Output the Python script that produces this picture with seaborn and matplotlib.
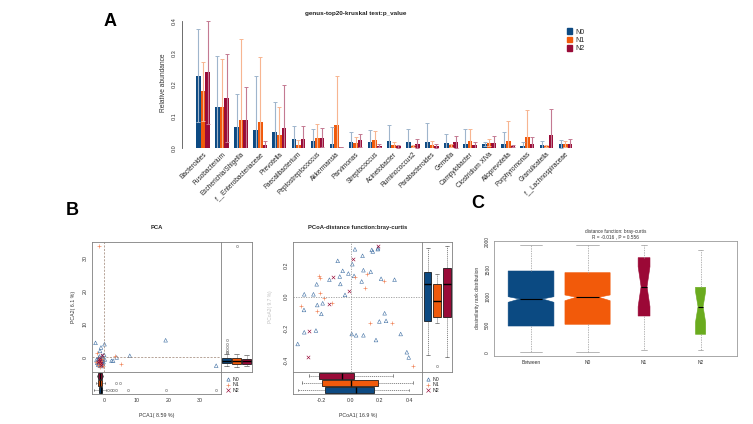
import matplotlib
matplotlib.use("Agg")
import matplotlib.pyplot as plt
from matplotlib.lines import Line2D
from matplotlib.patches import Patch
import pandas as pd
import seaborn as sns

sns.set_theme(style="white")
plt.rcParams['font.family'] = ['Liberation Sans', 'DejaVu Sans']

# ---------------- data ----------------
groups = ["N0", "N1", "N2"]
bar_colors = ["#0d4a82", "#f05a0c", "#990b38"]
err_colors = ["#9fb5cc", "#f7b591", "#c47a92"]
point_colors = ["#3f6fa3", "#f0845a", "#990b38"]

genus = ["Bacteroides", "Fusobacterium", "Escherichia/Shigella", "f__Enterobacteriaceae",
         "Prevotella", "Faecalibacterium", "Peptostreptococcus", "Akkermansia",
         "Parvimonas", "Streptococcus", "Acinetobacter", "Ruminococcus2",
         "Parabacteroides", "Gemella", "Campylobacter", "Clostridium XlVa",
         "Alloprevotella", "Porphyromonas", "Granulicatella", "f__Lachnospiraceae"]
n0_mean = [0.228, 0.128, 0.066, 0.058, 0.049, 0.028, 0.022, 0.012, 0.019, 0.020,
           0.023, 0.018, 0.018, 0.016, 0.013, 0.012, 0.013, 0.007, 0.008, 0.012]
n1_mean = [0.178, 0.130, 0.087, 0.083, 0.040, 0.010, 0.030, 0.071, 0.015, 0.024,
           0.008, 0.005, 0.010, 0.008, 0.021, 0.017, 0.021, 0.034, 0.005, 0.012]
n2_mean = [0.238, 0.157, 0.089, 0.008, 0.063, 0.029, 0.032, 0.003, 0.024, 0.007,
           0.005, 0.014, 0.007, 0.019, 0.008, 0.017, 0.005, 0.012, 0.042, 0.012]
n0_sd = [0.147, 0.161, 0.105, 0.170, 0.096, 0.041, 0.038, 0.054, 0.031, 0.037,
         0.050, 0.042, 0.060, 0.029, 0.047, 0.007, 0.037, 0.013, 0.013, 0.013]
n1_sd = [0.094, 0.150, 0.256, 0.204, 0.088, 0.015, 0.046, 0.157, 0.020, 0.029,
         0.011, 0.003, 0.013, 0.005, 0.039, 0.011, 0.064, 0.087, 0.003, 0.010]
n2_sd = [0.162, 0.139, 0.102, 0.014, 0.134, 0.040, 0.030, 0.001, 0.021, 0.005,
         0.005, 0.013, 0.006, 0.020, 0.010, 0.022, 0.003, 0.024, 0.082, 0.017]

# PCA scores
pca_n0_x = [-2.7, -1.0, 0.1, -1.3, 0.0, 2.3, 2.8, 3.9, 8.0, 19.2, 35.0,
            -1.8, -1.5, -1.2, -0.9, -0.6, -1.4, -2.0, -0.3, -1.0, -1.7, -0.8, -1.3, -0.5,
            -2.2, -1.1, 0.2, -1.6, -0.7, -1.9, -1.2, -0.4, -1.5, -0.9, -2.4, -0.2, -1.0,
            -1.8, -0.6, -1.3]
pca_n0_y = [4.4, 3.0, 4.0, 2.0, 0.8, -1.0, -1.0, 0.0, 0.5, 5.2, -2.5,
            -0.5, -1.2, -2.0, -0.8, -1.5, -2.4, -1.0, -0.3, -1.7, -0.2, -2.3, -0.9, -1.0,
            -1.6, -0.4, -0.6, -1.9, 0.5, -2.2, -1.3, -2.0, 0.3, -2.6, -0.7, -1.4, -1.1,
            -1.4, -0.1, -2.5]
pca_n1_x = [-1.6, -2.2, 3.4, 5.2, -1.0, -1.5, -0.8, -2.0, -1.2, -0.5, -1.7, -0.9, -1.4, -2.5]
pca_n1_y = [33.7, 1.2, 0.3, -2.1, -2.0, -1.0, -0.4, -2.3, -1.6, -2.6, -0.6, -1.2, -2.8, -1.5]
pca_n2_x = [-1.3, -0.9, -1.6, -1.1, -0.7, -1.9, -1.4]
pca_n2_y = [-1.0, -1.8, -0.5, -2.2, 0.6, -1.4, -0.2]

# PCoA scores (bray-curtis)
pcoa_n0_x = [0.029, 0.144, 0.151, 0.187, 0.185, 0.081, -0.089, 0.011, -0.055, 0.087,
             0.137, -0.016, -0.075, 0.023, -0.146, -0.233, 0.208, 0.300, 0.075, -0.071,
             -0.318, -0.255, -0.039, -0.192, -0.229, -0.320, -0.201, 0.232, 0.196, 0.242,
             -0.318, -0.238, 0.007, 0.037, 0.087, 0.173, 0.342, -0.363, 0.384, 0.397]
pcoa_n0_y = [0.299, 0.295, 0.285, 0.306, 0.300, 0.258, 0.226, 0.205, 0.163, 0.167,
             0.157, 0.146, 0.127, 0.131, 0.107, 0.078, 0.113, 0.107, 0.096, 0.080,
             0.015, 0.015, 0.011, -0.042, -0.053, -0.084, -0.109, -0.105, -0.157, -0.153,
             -0.225, -0.214, -0.236, -0.244, -0.244, -0.274, -0.236, -0.299, -0.351, -0.384]
pcoa_n1_x = [-0.218, -0.212, -0.207, -0.181, -0.126, -0.234, -0.341, 0.032, 0.114, 0.100,
             0.228, 0.132, 0.283, 0.425]
pcoa_n1_y = [0.130, 0.116, 0.020, -0.011, -0.038, -0.089, -0.059, 0.123, 0.141, 0.057,
             0.101, -0.168, -0.164, -0.436]
pcoa_n2_x = [0.185, 0.013, -0.119, -0.014, -0.146, -0.283, -0.290]
pcoa_n2_y = [0.320, 0.236, 0.124, 0.036, -0.045, -0.216, -0.379]

# marginal box statistics (N0, N1, N2)
pca_pc1_med = [-1.0, -1.3, -1.3]
pca_pc1_q1 = [-1.6, -2.0, -1.9]
pca_pc1_q3 = [-0.6, -0.6, -0.8]
pca_pc1_lo = [-3.2, -2.5, -2.2]
pca_pc1_hi = [0.5, 0.3, -0.3]
pca_pc1_out = [[1.3, 2.1, 2.8, 3.6, 7.5, 19.2, 35.0], [3.6, 5.1], []]
pca_pc2_med = [-1.0, -1.2, -1.2]
pca_pc2_q1 = [-1.6, -2.0, -1.9]
pca_pc2_q3 = [-0.3, -0.3, -0.4]
pca_pc2_lo = [-2.7, -2.8, -2.5]
pca_pc2_hi = [1.0, 1.0, 0.6]
pca_pc2_out = [[1.2, 1.7, 2.4, 3.2, 4.0, 5.2], [33.7], []]

pcoa_pc1_med = [0.034, 0.0, -0.062]
pcoa_pc1_q1 = [-0.176, -0.199, -0.215]
pcoa_pc1_q3 = [0.162, 0.185, 0.023]
pcoa_pc1_lo = [-0.363, -0.336, -0.283]
pcoa_pc1_hi = [0.397, 0.428, 0.287]
pcoa_pc2_med = [0.078, -0.027, 0.078]
pcoa_pc2_q1 = [-0.153, -0.128, -0.131]
pcoa_pc2_q3 = [0.157, 0.078, 0.179]
pcoa_pc2_lo = [-0.370, -0.164, -0.379]
pcoa_pc2_hi = [0.306, 0.141, 0.320]
pcoa_pc2_out = [[], [-0.436], []]

# ANOSIM rank distances
anosim_groups = ["Between", "N0", "N1", "N2"]
anosim_colors = ["#0b4a82", "#f25a0a", "#9b0836", "#6aab1e"]
anosim_med = [964, 995, 1187, 825]
anosim_q1 = [475, 506, 656, 325]
anosim_q3 = [1470, 1440, 1711, 1175]
anosim_lo = [0, 0, 42, 42]
anosim_hi = [1940, 1940, 1940, 1850]
anosim_cilo = [904, 933, 825, 540]
anosim_cihi = [1005, 1036, 1548, 1100]
anosim_width = [0.81, 0.80, 0.21, 0.18]

# ---------------- figure ----------------
W, H = 753, 424
fig = plt.figure(figsize=(W / 100, H / 100), dpi=100)


def px_axes(l, t, r, b):
    return fig.add_axes([l / W, 1 - b / H, (r - l) / W, (b - t) / H])


def frame(ax, color="#808080"):
    for s in ax.spines.values():
        s.set_visible(True)
        s.set_color(color)
        s.set_linewidth(0.6)
    ax.tick_params(length=1.8, width=0.4, pad=1.2, labelsize=3.8, colors="#333333")


def make_stats(med, q1, q3, lo, hi, out=None, cilo=None, cihi=None):
    stats = []
    for i in range(len(med)):
        d = dict(med=med[i], q1=q1[i], q3=q3[i], whislo=lo[i], whishi=hi[i],
                 fliers=out[i] if out else [])
        if cilo:
            d["cilo"], d["cihi"] = cilo[i], cihi[i]
        stats.append(d)
    return stats


def margin_box(ax, stats, orient, wid):
    bp = ax.bxp(stats, positions=[1, 2, 3], widths=wid, orientation=orient,
                patch_artist=True, manage_ticks=False,
                boxprops=dict(edgecolor="black", linewidth=0.5),
                medianprops=dict(color="black", linewidth=1.0),
                whiskerprops=dict(color="#333333", linewidth=0.4, linestyle=(0, (2, 1.5))),
                capprops=dict(color="#333333", linewidth=0.4),
                flierprops=dict(marker="o", markersize=1.6, markerfacecolor="none",
                                markeredgecolor="#555555", markeredgewidth=0.3))
    for patch, c in zip(bp["boxes"], bar_colors):
        patch.set_facecolor(c)


def scatter_groups(ax, xs, ys):
    sns.scatterplot(x=xs[0], y=ys[0], marker="^", s=7, facecolor="none",
                    edgecolor=point_colors[0], linewidth=0.4, ax=ax)
    sns.scatterplot(x=xs[1], y=ys[1], marker="+", s=9, color=point_colors[1],
                    linewidth=0.45, ax=ax)
    sns.scatterplot(x=xs[2], y=ys[2], marker="x", s=6, color=point_colors[2],
                    linewidth=0.45, ax=ax)


def group_legend(x, y):
    handles = [Line2D([], [], marker="^", ls="none", mfc="none", mec=point_colors[0], ms=2.4, mew=0.45),
               Line2D([], [], marker="+", ls="none", color=point_colors[1], ms=2.6, mew=0.45),
               Line2D([], [], marker="x", ls="none", color=point_colors[2], ms=2.2, mew=0.45)]
    fig.legend(handles, groups, loc="upper left", bbox_to_anchor=(x / W, 1 - y / H),
               frameon=False, fontsize=3.8, handlelength=0.8, handletextpad=0.5,
               labelspacing=0.05, borderpad=0)


# ---------------- panel A ----------------
axA = px_axes(182, 17.8, 575, 148)
bars = pd.DataFrame({"genus": genus * 3,
                     "group": [g for g in groups for _ in genus],
                     "abundance": n0_mean + n1_mean + n2_mean})
sns.barplot(data=bars, x="genus", y="abundance", hue="group", palette=bar_colors,
            width=0.72, errorbar=None, saturation=1, linewidth=0, legend=False, ax=axA)
for cont, mean, sd, ec in zip(axA.containers, [n0_mean, n1_mean, n2_mean],
                              [n0_sd, n1_sd, n2_sd], err_colors):
    xs = [p.get_x() + p.get_width() / 2 for p in cont]
    axA.errorbar(xs, mean, yerr=sd, fmt="none", ecolor=ec, elinewidth=0.8,
                 capsize=1.3, capthick=0.7, zorder=3)
axA.set_xlim(-1.1, 19.5)
axA.set_ylim(0, 0.41)
for s in ["top", "right", "bottom"]:
    axA.spines[s].set_visible(False)
axA.spines["left"].set_bounds(0, 0.4)
axA.spines["left"].set_color("#555555")
axA.spines["left"].set_linewidth(0.6)
axA.set_yticks([0, 0.1, 0.2, 0.3, 0.4])
axA.set_yticklabels(["0.0", "0.1", "0.2", "0.3", "0.4"], rotation=90, va="center")
axA.tick_params(axis="y", length=2, width=0.5, pad=1.5, labelsize=4, colors="#333333")
axA.tick_params(axis="x", length=0, pad=2)
axA.set_xticks(range(len(genus)))
axA.set_xticklabels(genus, rotation=45, ha="right", rotation_mode="anchor",
                    fontsize=4.7, color="#222222")
axA.set_xlabel("")
axA.set_ylabel("Relative abundance", fontsize=4.8, color="#333333", labelpad=4)
fig.text(356 / W, 1 - 13.3 / H, "genus-top20-kruskal test:p_value", ha="center",
         va="center", fontsize=4.6, fontweight="bold", color="#222222")
axA.legend([Patch(color=c) for c in bar_colors], groups, loc="upper left",
           bbox_to_anchor=(564 / W, 1 - 25 / H), bbox_transform=fig.transFigure,
           frameon=False, fontsize=5, handlelength=0.7, handleheight=0.8,
           handletextpad=0.4, labelspacing=0.2, borderpad=0)

# ---------------- panel B: PCA ----------------
pca_xlim, pca_ylim = (-3.8, 36.5), (-4.4, 34.9)
pm = px_axes(92, 242, 221, 372)
scatter_groups(pm, [pca_n0_x, pca_n1_x, pca_n2_x], [pca_n0_y, pca_n1_y, pca_n2_y])
pm.axvline(0, color="#9a8070", lw=0.5, ls=(0, (3, 2)))
pm.axhline(0, color="#9a8070", lw=0.5, ls=(0, (3, 2)))
pm.set_xlim(pca_xlim)
pm.set_ylim(pca_ylim)
frame(pm)
pm.set_xticks([])
pm.set_yticks([0, 10, 20, 30])
pm.set_yticklabels(["0", "10", "20", "30"], rotation=90, va="center")
pm.set_ylabel("PCA2( 6.1 %)", fontsize=3.8, color="#333333", labelpad=5)
pm.set_title("PCA", fontsize=4.2, fontweight="bold", pad=9.5)

pr = px_axes(221, 242, 252, 372)
margin_box(pr, make_stats(pca_pc2_med, pca_pc2_q1, pca_pc2_q3, pca_pc2_lo, pca_pc2_hi,
                          pca_pc2_out), "vertical", 0.85)
pr.set_xlim(0.45, 3.55)
pr.set_ylim(pca_ylim)
frame(pr)
pr.set_xticks([])
pr.set_yticks([])

pb = px_axes(92, 372, 221, 394)
margin_box(pb, make_stats(pca_pc1_med, pca_pc1_q1, pca_pc1_q3, pca_pc1_lo, pca_pc1_hi,
                          pca_pc1_out), "horizontal", 0.78)
pb.set_ylim(0.45, 3.55)
pb.set_xlim(pca_xlim)
frame(pb)
pb.set_yticks([])
pb.set_xticks([0, 10, 20, 30])
pb.set_xlabel("PCA1( 8.59 %)", fontsize=3.8, color="#333333", labelpad=7)
group_legend(223, 374.5)

# ---------------- panel B: PCoA ----------------
pcoa_xlim, pcoa_ylim = (-0.393, 0.49), (-0.474, 0.347)
qm = px_axes(293.3, 241.7, 422.3, 371.7)
scatter_groups(qm, [pcoa_n0_x, pcoa_n1_x, pcoa_n2_x], [pcoa_n0_y, pcoa_n1_y, pcoa_n2_y])
qm.axvline(0, color="#999999", lw=0.6, ls=(0, (1.5, 1.5)))
qm.axhline(0, color="#999999", lw=0.6, ls=(0, (1.5, 1.5)))
qm.set_xlim(pcoa_xlim)
qm.set_ylim(pcoa_ylim)
frame(qm)
qm.set_xticks([])
qm.set_yticks([-0.4, -0.2, 0.0, 0.2])
qm.set_yticklabels(["-0.4", "-0.2", "0.0", "0.2"], rotation=90, va="center")
qm.set_ylabel("PCoA2( 9.7 %)", fontsize=3.5, color="#c0c0c0", labelpad=8)
qm.set_title("PCoA-distance function:bray-curtis", fontsize=4.2, fontweight="bold", pad=9.5)

qr = px_axes(422.3, 241.7, 452, 371.7)
margin_box(qr, make_stats(pcoa_pc2_med, pcoa_pc2_q1, pcoa_pc2_q3, pcoa_pc2_lo, pcoa_pc2_hi,
                          pcoa_pc2_out), "vertical", 0.82)
qr.set_xlim(0.45, 3.55)
qr.set_ylim(pcoa_ylim)
frame(qr)
qr.set_xticks([])
qr.set_yticks([])

qb = px_axes(293.3, 371.7, 422.3, 394)
margin_box(qb, make_stats(pcoa_pc1_med, pcoa_pc1_q1, pcoa_pc1_q3, pcoa_pc1_lo, pcoa_pc1_hi),
           "horizontal", 0.8)
qb.set_ylim(0.45, 3.55)
qb.set_xlim(pcoa_xlim)
frame(qb)
qb.set_yticks([])
qb.set_xticks([-0.2, 0.0, 0.2, 0.4])
qb.set_xticklabels(["-0.2", "0.0", "0.2", "0.4"])
qb.set_xlabel("PCoA1( 16.9 %)", fontsize=3.8, color="#333333", labelpad=7)
group_legend(423, 374.5)

# ---------------- panel C: ANOSIM ----------------
axC = px_axes(494.3, 240.7, 737.3, 355.7)
bp = axC.bxp(make_stats(anosim_med, anosim_q1, anosim_q3, anosim_lo, anosim_hi,
                        cilo=anosim_cilo, cihi=anosim_cihi),
             positions=range(4), widths=anosim_width, shownotches=True,
             patch_artist=True, manage_ticks=False, showfliers=False,
             boxprops=dict(linewidth=0.4),
             medianprops=dict(color="black", linewidth=0.8),
             whiskerprops=dict(color="#9a9a9a", linewidth=0.5, linestyle=(0, (2, 1.5))),
             capprops=dict(color="#9a9a9a", linewidth=0.5))
for patch, c in zip(bp["boxes"], anosim_colors):
    patch.set_facecolor(c)
    patch.set_edgecolor(c)
axC.set_xlim(-0.65, 3.65)
axC.set_ylim(-62, 2018)
frame(axC, "#9a9a9a")
axC.set_xticks(range(4))
axC.set_xticklabels(anosim_groups)
axC.set_yticks([0, 500, 1000, 1500, 2000])
axC.set_yticklabels(["0", "500", "1000", "1500", "2000"], rotation=90, va="center")
axC.tick_params(labelsize=3.5)
axC.set_ylabel("dissimilarity rank distribution", fontsize=3.5, color="#333333", labelpad=4)
axC.set_title("distance function: bray-curtis\nR = -0.016 , P = 0.556", fontsize=3.4,
              color="#333333", pad=1.5, linespacing=1.1)

# panel letters
for letter, x, y in [("A", 110, 22), ("B", 72.5, 210.5), ("C", 477.5, 204)]:
    fig.text(x / W, 1 - y / H, letter, ha="center", va="center", fontsize=13,
             fontweight="bold", color="black")

fig.savefig("out.png", dpi=100)
